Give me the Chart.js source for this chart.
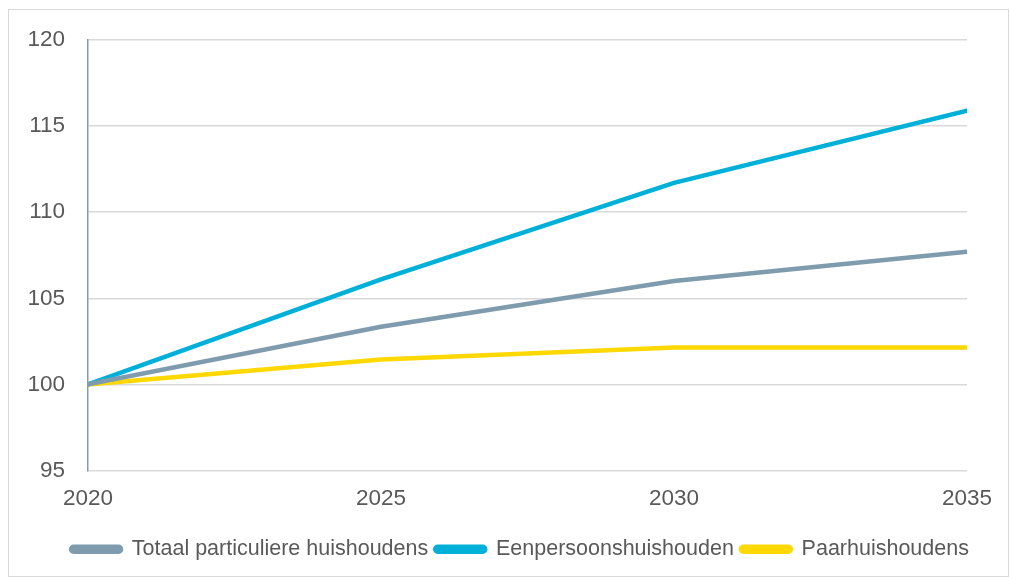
<!DOCTYPE html>
<html>
<head>
<meta charset="utf-8">
<script src="https://cdn.jsdelivr.net/npm/chart.js@4"></script>
<style>
  html, body { margin: 0; padding: 0; background: #fff; }
  #box { position: absolute; left: 8px; top: 9px; width: 1001px; height: 568px; border: 1px solid #d9d9d9; box-sizing: border-box; }
  #box canvas { display: block; }
</style>
</head>
<body>
<div id="box"><canvas id="lineChart"></canvas></div>
<script>
// jaren en indexcijfers (2020 = 100)
var years = [2020, 2025, 2030, 2035];
var totaal = [100, 103.35, 106.0, 107.7];
var eenpersoons = [100, 106.1, 111.7, 115.9];
var paar = [100, 101.45, 102.15, 102.15];
var yTicks = [95, 100, 105, 110, 115, 120];

function pts(vals) {
  return vals.map(function (v, i) { return { x: years[i], y: v }; });
}

var tickColor = '#595959';
var fam = '"Liberation Sans", Arial, sans-serif';

// legenda staat in het origineel iets rechts van het midden
var shiftLegend = {
  id: 'shiftLegend',
  afterLayout: function (chart) {
    var lg = chart.legend;
    if (!lg) return;
    lg.left += 32;
    lg.right += 32;
  }
};

var ctx = document.getElementById('lineChart').getContext('2d');
var myChart = new Chart(ctx, {
  type: 'line',
  data: {
    datasets: [{
      label: 'Totaal particuliere huishoudens',
      data: pts(totaal),
      borderColor: '#7f9bae',
      backgroundColor: '#7f9bae',
      borderWidth: 4.5
    }, {
      label: 'Eenpersoonshuishouden',
      data: pts(eenpersoons),
      borderColor: '#00b0d9',
      backgroundColor: '#00b0d9',
      borderWidth: 4.5
    }, {
      label: 'Paarhuishoudens',
      data: pts(paar),
      borderColor: '#ffd800',
      backgroundColor: '#ffd800',
      borderWidth: 4.5
    }]
  },
  options: {
    responsive: true,
    maintainAspectRatio: false,
    animation: false,
    elements: { point: { radius: 0 }, line: { tension: 0, borderCapStyle: 'round' } },
    layout: { padding: { top: 30, right: 41, bottom: 6, left: 0 } },
    scales: {
      x: {
        type: 'linear',
        min: 2020,
        max: 2035,
        afterBuildTicks: function (s) { s.ticks = years.map(function (y) { return { value: y }; }); },
        afterFit: function (s) { s.height = 61; },
        grid: { display: false, drawTicks: false },
        border: { display: false },
        ticks: {
          color: tickColor,
          font: { family: fam, size: 22.5 },
          padding: 15,
          maxRotation: 0,
          callback: function (v) { return String(v); }
        }
      },
      y: {
        min: 95,
        max: 120,
        afterBuildTicks: function (s) { s.ticks = yTicks.map(function (v) { return { value: v }; }); },
        afterFit: function (s) { s.width = 79; s.paddingTop = 0; s.paddingBottom = 0; },
        grid: { color: '#d9d9d9', lineWidth: 1.5, drawTicks: false },
        border: { display: true, color: '#7f9bae', width: 1.5 },
        ticks: {
          color: tickColor,
          font: { family: fam, size: 22.5 },
          padding: 23
        }
      }
    },
    plugins: {
      tooltip: { enabled: false },
      legend: {
        position: 'bottom',
        labels: {
          color: tickColor,
          font: { family: fam, size: 21.5 },
          boxWidth: 50,
          boxHeight: 5,
          useBorderRadius: true,
          borderRadius: 2.5,
          padding: 7
        }
      }
    }
  },
  plugins: [shiftLegend]
});
</script>
</body>
</html>
